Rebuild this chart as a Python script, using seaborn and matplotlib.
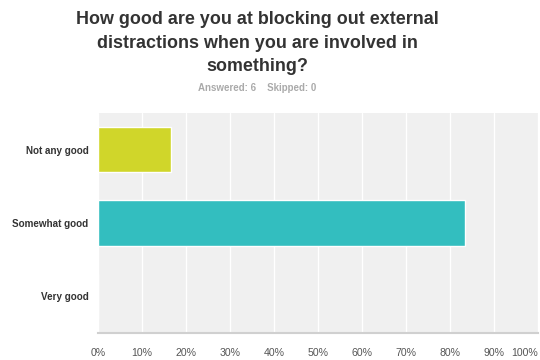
import matplotlib
matplotlib.use("Agg")
import matplotlib.pyplot as plt
import seaborn as sns
import pandas as pd

categories = ["Not any good", "Somewhat good", "Very good"]
values = [16.67, 83.33, 0.0]
colors = ["#D0D62A", "#33BEBF", "#E3A03A"]
tick_values = [0, 10, 20, 30, 40, 50, 60, 70, 80, 90, 100]
tick_labels = ["0%", "10%", "20%", "30%", "40%", "50%", "60%", "70%", "80%", "90%", "100%"]
title = "How good are you at blocking out external\ndistractions when you are involved in\nsomething?"
subtitle = "Answered: 6    Skipped: 0"

sns.set_theme(style="white")
plt.rcParams['font.family'] = ['Liberation Sans', 'DejaVu Sans']

df = pd.DataFrame({"category": categories, "value": values})

fig = plt.figure(figsize=(5.4, 3.6), dpi=100)
ax = fig.add_axes([98/540, 1-333/360, 440/540, 220/360])
ax.set_facecolor("#F0F0F0")

sns.barplot(data=df, y="category", x="value", hue="category", palette=colors,
            orient="h", width=0.62, ax=ax, legend=False, saturation=1)

ax.set_xlim(0, 100)
ax.set_xticks(tick_values)
ax.set_xticklabels(tick_labels)
ax.xaxis.grid(True, color="white", linewidth=1)
ax.set_axisbelow(True)
ax.set_xlabel("")
ax.set_ylabel("")
for s in ["top", "right", "left"]:
    ax.spines[s].set_visible(False)
ax.spines["bottom"].set_color("#D0D0D0")
ax.spines["bottom"].set_linewidth(1.5)
ax.tick_params(axis="x", length=0, pad=11, labelsize=7.6, labelcolor="#555555")
ax.tick_params(axis="y", length=0, pad=7, labelsize=7.1, labelcolor="#333333")
for lbl in ax.get_yticklabels():
    lbl.set_fontweight("bold")
xl = ax.get_xticklabels()
xl[-1].set_ha("right")

cx = 257 / 540
fig.text(cx, 1-43/360, title, ha="center", va="center", fontsize=12.9,
         fontweight="bold", color="#333333", linespacing=1.5)
fig.text(cx, 1-88/360, subtitle, ha="center", va="center", fontsize=7,
         fontweight="bold", color="#AAAAAA")

fig.savefig("out.png", dpi=100)
